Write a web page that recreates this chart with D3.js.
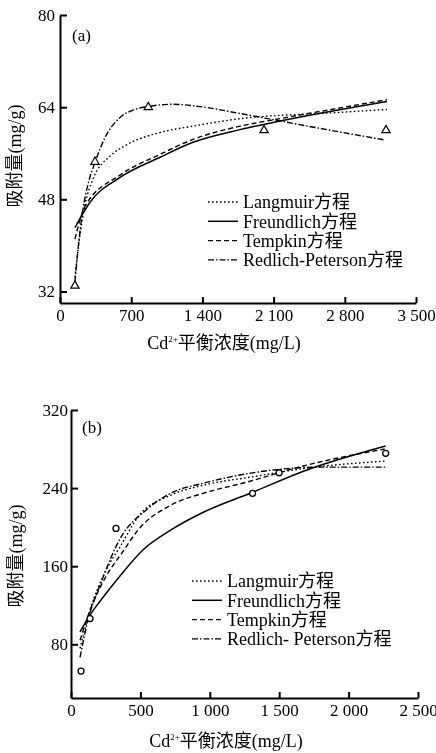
<!DOCTYPE html>
<html>
<head>
<meta charset="utf-8">
<script src="https://cdn.jsdelivr.net/npm/d3@7"></script>
<style>
  body { margin: 0; background: #fff; }
  svg { filter: grayscale(100%); }
  svg text { fill: #000; }
</style>
</head>
<body>
<div id="wrapper"></div>
<script>
// ---- data: panel (a) ----
const xTicksA = [0, 700, 1400, 2100, 2800, 3500]
const yTicksA = [32, 48, 64, 80]
const obsA = [[147, 33.0], [344, 54.5], [868, 64.0], [2006, 60.0], [3205, 60.0]]
const langmuirA = [[147, 34.5], [197, 41.9], [246, 47.1], [324, 51.5], [492, 55.5], [659, 57.5], [983, 59.6], [1308, 60.7], [1770, 62.0], [2655, 63.0], [3215, 63.6]]
const freundlichA = [[147, 43.1], [295, 47.5], [590, 51.8], [983, 55.3], [1308, 57.9], [1770, 60.1], [2163, 61.6], [3215, 65.0]]
const tempkinA = [[147, 41.1], [246, 46.8], [590, 52.2], [983, 55.8], [1308, 58.4], [1770, 60.7], [2163, 62.0], [3215, 65.3]]
const redlichA = [[147, 33.6], [177, 39.3], [226, 46.3], [275, 50.6], [344, 54.4], [442, 58.7], [590, 62.2], [737, 63.6], [865, 64.1], [1111, 64.5], [1376, 64.1], [1770, 62.9], [2163, 61.6], [2655, 60.0], [3195, 58.3]]

// ---- data: panel (b) ----
const xTicksB = [0, 500, 1000, 1500, 2000, 2500]
const yTicksB = [80, 160, 240, 320]
const obsB = [[72, 52.6], [137, 106.4], [324, 198.7], [1308, 234.6], [1499, 255.7], [2267, 275.6]]
const langmuirB = [[65, 75.9], [137, 114.9], [245, 153.8], [360, 181.5], [482, 210.3], [720, 232.8], [957, 243.1], [1296, 251.3], [1699, 260.5], [2267, 267.7]]
const freundlichB = [[65, 92.6], [137, 110.0], [216, 125.4], [353, 150.0], [518, 176.6], [720, 197.1], [957, 215.5], [1296, 235.0], [1699, 258.5], [2267, 283.1]]
const tempkinB = [[65, 84.1], [151, 120], [245, 147.7], [381, 176.4], [482, 196.9], [720, 222.6], [957, 234.9], [1250, 245.5], [1699, 263.6], [2260, 280]]
const redlichB = [[65, 66.7], [122, 104.6], [209, 140.5], [360, 189.7], [540, 217.4], [720, 234.9], [957, 245.1], [1296, 255.4], [1814, 261.5], [2267, 261.5]]

const legendA = ["Langmuir方程", "Freundlich方程", "Tempkin方程", "Redlich-Peterson方程"]
const legendB = ["Langmuir方程", "Freundlich方程", "Tempkin方程", "Redlich- Peterson方程"]

// line styles in legend order
const dashes = ["1.6,2.4", null, "5,3", "6,2,1.5,2"]

const latinFont = "'Liberation Serif', 'Times New Roman', serif"
const cjkFont = "'Noto Sans CJK SC', sans-serif"

const fmt = d3.formatLocale({ decimal: ".", thousands: " ", grouping: [3], currency: ["", ""] }).format(",")

// put latin and chinese parts of a label in their own tspans
function mixedText(sel, str) {
  str.split(/([\u4e00-\u9fff]+)/).filter(s => s.length).forEach(part => {
    const cjk = /[\u4e00-\u9fff]/.test(part)
    sel.append("tspan")
      .style("font-family", cjk ? cjkFont : latinFont)
      .text(part)
  })
  return sel
}

const svg = d3.select("#wrapper")
  .append("svg")
  .attr("width", 436)
  .attr("height", 753)

function drawPanel(p) {
  const xScale = d3.scaleLinear().domain(p.xDomain).range([p.left, p.right])
  const yScale = d3.scaleLinear().domain(p.yDomain).range([p.bottom, p.top])

  const g = svg.append("g")

  // axes
  const xAxis = g.append("g")
    .attr("transform", `translate(0,${p.bottom})`)
    .call(d3.axisBottom(xScale).tickValues(p.xTicks).tickSizeInner(-6).tickSizeOuter(0).tickPadding(6).tickFormat(fmt))
  const yAxis = g.append("g")
    .attr("transform", `translate(${p.left},0)`)
    .call(d3.axisLeft(yScale).tickValues(p.yTicks).tickSizeInner(-7).tickSizeOuter(0).tickPadding(p.yPad).tickFormat(fmt))

  ;[xAxis, yAxis].forEach(a => {
    a.attr("font-size", 17)
    a.selectAll("text").style("font-family", latinFont)
    a.select(".domain").attr("stroke", "#000").attr("stroke-width", 2)
    a.selectAll(".tick line").attr("stroke", "#000").attr("stroke-width", 2)
  })

  // fitted curves
  const line = d3.line()
    .x(d => xScale(d[0]))
    .y(d => yScale(d[1]))
    .curve(d3.curveMonotoneX)

  p.series.forEach((s, i) => {
    g.append("path")
      .datum(s)
      .attr("fill", "none")
      .attr("stroke", "#000")
      .attr("stroke-width", i == 1 ? 1.5 : 1.4)
      .attr("stroke-dasharray", dashes[i])
      .attr("d", line)
  })

  // observed points
  if (p.marker == "triangle") {
    const tri = d3.symbol().type(d3.symbolTriangle).size(30)
    g.selectAll(".pt").data(p.obs).enter().append("path")
      .attr("transform", d => `translate(${xScale(d[0])},${yScale(d[1])})`)
      .attr("d", tri)
      .attr("fill", "#fff")
      .attr("stroke", "#000")
      .attr("stroke-width", 1.2)
  } else {
    g.selectAll(".pt").data(p.obs).enter().append("circle")
      .attr("cx", d => xScale(d[0]))
      .attr("cy", d => yScale(d[1]))
      .attr("r", 3)
      .attr("fill", "#fff")
      .attr("stroke", "#000")
      .attr("stroke-width", 1.3)
  }

  // panel label
  g.append("text").attr("x", p.tagX).attr("y", p.tagY)
    .style("font-family", latinFont).attr("font-size", 17).text(p.tag)

  // legend
  p.legend.forEach((name, i) => {
    const y = p.legY + i * 19.3
    g.append("line")
      .attr("x1", p.legX).attr("x2", p.legX + 30)
      .attr("y1", y).attr("y2", y)
      .attr("stroke", "#000")
      .attr("stroke-width", i == 1 ? 1.5 : 1.4)
      .attr("stroke-dasharray", dashes[i])
    const t = g.append("text")
      .attr("x", p.legX + 35).attr("y", y).attr("dy", "0.35em")
      .attr("font-size", 18)
    mixedText(t, name)
  })

  // x title
  const xt = g.append("text")
    .attr("x", p.xTitleX).attr("y", p.xTitleY)
    .attr("text-anchor", "middle")
    .attr("font-size", 18)
  xt.append("tspan").style("font-family", latinFont).text("Cd")
  xt.append("tspan").style("font-family", latinFont).attr("font-size", 9).attr("dy", -7).text("2+")
  xt.append("tspan").style("font-family", cjkFont).attr("dy", 7).text("平衡浓度")
  xt.append("tspan").style("font-family", latinFont).text("(mg/L)")

  // y title
  const yt = g.append("text")
    .attr("transform", `translate(${p.yTitleX},${p.yTitleY}) rotate(-90)`)
    .attr("text-anchor", "middle")
    .attr("dy", "0.35em")
    .attr("font-size", 18)
  mixedText(yt, "吸附量(mg/g)")
}

drawPanel({
  xDomain: [0, 3500], yDomain: [30, 80],
  left: 60, right: 416, top: 15, bottom: 303,
  xTicks: xTicksA, yTicks: yTicksA, yPad: 5,
  series: [langmuirA, freundlichA, tempkinA, redlichA],
  obs: obsA, marker: "triangle",
  tag: "(a)", tagX: 72, tagY: 41,
  legend: legendA, legX: 208, legY: 202,
  xTitleX: 224, xTitleY: 349,
  yTitleX: 15, yTitleY: 156
})

drawPanel({
  xDomain: [0, 2500], yDomain: [25, 320],
  left: 71, right: 418, top: 410, bottom: 698,
  xTicks: xTicksB, yTicks: yTicksB, yPad: 3,
  series: [langmuirB, freundlichB, tempkinB, redlichB],
  obs: obsB, marker: "circle",
  tag: "(b)", tagX: 82, tagY: 433,
  legend: legendB, legX: 192, legY: 581,
  xTitleX: 226, xTitleY: 747,
  yTitleX: 16, yTitleY: 556
})
</script>
</body>
</html>
